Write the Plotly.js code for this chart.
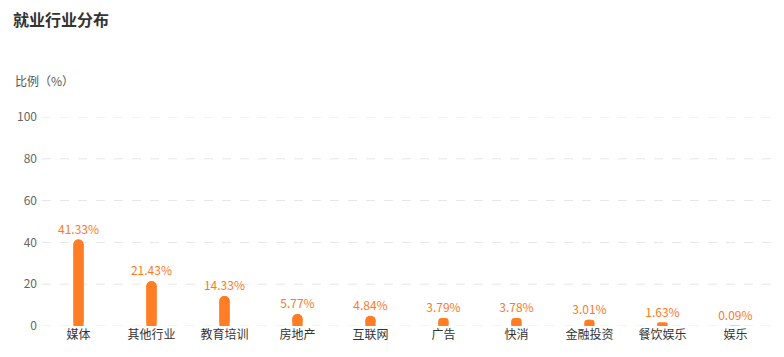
<!DOCTYPE html>
<html>
<head>
<meta charset="utf-8">
<script src="https://cdn.plot.ly/plotly-3.0.1.min.js"></script>
<style>
  html, body { margin: 0; padding: 0; background: #fff; }
  #chart { width: 784px; height: 357px; }
</style>
</head>
<body>
<div id="chart"></div>
<script>
// 就业行业分布 — share of graduates per industry (%)
const industries = ['媒体', '其他行业', '教育培训', '房地产', '互联网', '广告', '快消', '金融投资', '餐饮娱乐', '娱乐'];
const shares = [41.33, 21.43, 14.33, 5.77, 4.84, 3.79, 3.78, 3.01, 1.63, 0.09];
const yTicks = [0, 20, 40, 60, 80, 100];

const barColor = '#ff7d24';
const labelColor = '#ff7a1c';
const font = '"Noto Sans CJK SC", "Noto Sans", sans-serif';
const barWidth = 0.14;

// Upper half: bar grows from 0, rounded at its top end, carries the value label.
const upper = {
  type: 'bar',
  x: industries,
  y: shares,
  width: barWidth,
  marker: { color: barColor, cornerradius: '50%', line: { width: 0 } },
  texttemplate: '%{y:.2f}%',
  textposition: 'outside',
  constraintext: 'none',
  textfont: { family: font, size: 12, color: labelColor },
  cliponaxis: false,
  hoverinfo: 'skip'
};

// Lower half: same bar drawn downward from its value, so the bottom end is rounded too.
const lower = {
  type: 'bar',
  x: industries,
  y: shares.map(v => -v),
  base: shares,
  width: barWidth,
  marker: { color: barColor, cornerradius: '50%', line: { width: 0 } },
  hoverinfo: 'skip'
};

// Dashed horizontal guides at every y tick, including both ends of the range.
const gridLines = yTicks.map(v => ({
  type: 'line',
  xref: 'paper', yref: 'y',
  x0: 0, x1: 1, y0: v, y1: v,
  layer: 'below',
  line: { color: '#e6e6e6', width: 1, dash: 'dash' }
}));

const layout = {
  width: 784,
  height: 357,
  margin: { l: 42, r: 7, t: 117, b: 31 },
  paper_bgcolor: '#ffffff',
  plot_bgcolor: '#ffffff',
  barmode: 'overlay',
  showlegend: false,
  font: { family: font, size: 12, color: '#333' },
  title: {
    text: '<b>就业行业分布</b>',
    font: { family: font, size: 16, color: '#333' },
    xref: 'container', yref: 'container',
    x: 13 / 784, xanchor: 'left',
    y: 1 - 20 / 357, yanchor: 'middle'
  },
  xaxis: {
    type: 'category',
    range: [-0.5, 9.57],
    showgrid: false,
    showline: false,
    zeroline: false,
    ticks: '',
    tickfont: { family: font, size: 12, color: '#333' },
    fixedrange: true
  },
  yaxis: {
    range: [0, 100],
    tickvals: yTicks,
    ticktext: yTicks.map(String),
    showgrid: false,
    zeroline: false,
    showline: false,
    ticks: '',
    ticklabelstandoff: 4,
    tickfont: { family: font, size: 12, color: '#666' },
    fixedrange: true
  },
  shapes: gridLines,
  annotations: [{
    text: '比例（%）',
    xref: 'paper', yref: 'paper',
    x: (13 - 42) / 735, xanchor: 'left',
    y: (326 - 80) / 209, yanchor: 'middle',
    showarrow: false,
    font: { family: font, size: 12, color: '#555' }
  }]
};

Plotly.newPlot('chart', [lower, upper], layout, { displayModeBar: false, staticPlot: true });
</script>
</body>
</html>
